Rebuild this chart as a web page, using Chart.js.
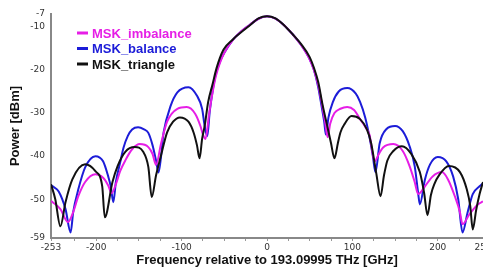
<!DOCTYPE html>
<html>
<head>
<meta charset="utf-8">
<script src="https://cdn.jsdelivr.net/npm/chart.js@4/dist/chart.umd.min.js"></script>
<style>
  html, body { margin: 0; padding: 0; background: #fff; overflow: hidden; }
  #wrap { position: relative; width: 483px; height: 272px; }
</style>
</head>
<body>
<div id="wrap"><canvas id="spectrum"></canvas></div>
<script>
// Frequency offsets [GHz] and power [dBm]
const imbalanceFreq = [-253, -251, -242, -233, -227, -221, -213, -201, -192, -186, -182, -177, -172, -166, -158, -149, -139, -134, -130, -124, -117, -105, -94, -84, -78, -75, -72, -68, -64, -60, -55, -50, -40, -30, -20, -10, 0, 10, 20, 30, 40, 50, 55, 60, 64, 68, 71, 74, 79, 86, 94, 102, 109, 116, 120, 126, 131, 136, 148, 159, 167, 173, 177, 185, 194, 205, 212, 220, 226, 229, 237, 247, 253];
const imbalancePower = [-50.4, -50.7, -52.3, -55.3, -53, -49.3, -46, -44.2, -45, -46.8, -48.6, -46.5, -43.5, -41, -38.4, -37.2, -37.9, -39.5, -42, -37, -32, -29, -28.6, -30.2, -33, -35, -36, -30.5, -25.5, -21.5, -18.3, -16, -13, -11, -9.5, -8.1, -7.5, -8.1, -9.6, -11.7, -14.2, -17.5, -20, -23.5, -27.5, -32, -35.6, -32.5, -30, -29, -28.6, -29.3, -31.4, -33.5, -35, -41.2, -39.5, -38, -37.2, -38.8, -42.3, -46, -48.8, -47, -44.7, -43.7, -45.4, -49.3, -53, -55.8, -53.5, -51.2, -50.5];

const balanceFreq = [-253, -251, -244, -236, -230, -227, -221, -213, -201, -192, -186, -183, -180, -177, -172, -168, -163, -158, -151, -144, -139, -134, -130, -127, -121, -113, -105, -92, -82, -76, -73, -70, -67, -63, -60, -55, -50, -40, -30, -20, -10, 0, 10, 20, 30, 40, 50, 55, 60, 64, 67, 69, 72, 77, 84, 94, 104, 109, 115, 120, 124, 127, 132, 140, 150, 159, 167, 173, 177, 179, 185, 191, 200, 210, 218, 224, 229, 235, 241, 249, 253];
const balancePower = [-46.7, -47, -48.2, -52.3, -57.7, -53, -47.7, -42.6, -40, -41.2, -44.7, -47, -50.7, -46, -41.5, -38, -35.3, -33.8, -33.3, -33.8, -34.6, -37.5, -41, -43.8, -34.4, -28.4, -25.2, -24, -26, -29, -33, -35.4, -29.5, -24, -21, -18, -16, -13, -11, -9.5, -8.1, -7.5, -8.1, -9.6, -11.7, -14.2, -17.5, -20, -24, -28.5, -32, -35, -31, -27.5, -25, -24.2, -25.5, -27.4, -31, -35.5, -40, -43.7, -37, -33.7, -33, -34.2, -37.7, -42.3, -48.5, -51.2, -45.4, -41.9, -40.2, -41.2, -44.7, -50, -57.7, -53, -48.8, -47, -46.3];

const triangleFreq = [-253, -248, -242, -236, -228, -213, -201, -193, -190, -181, -175, -166, -155, -145, -139, -135, -130, -125, -117, -110, -102, -92, -86, -82, -79, -76, -73, -69, -64, -59, -51, -40, -30, -20, -10, 0, 10, 20, 30, 40, 50, 55, 60, 65, 70, 75, 79, 83, 86, 91, 99, 109, 117, 122, 128, 133, 137, 141, 148, 158, 169, 179, 184, 188, 192, 196, 202, 213, 226, 234, 238, 241, 245, 249, 253];
const trianglePower = [-46.5, -50, -56.3, -50.7, -45.4, -41.9, -43.5, -47, -54.2, -46, -42.3, -39, -37.9, -39, -42.5, -49.5, -44.5, -40.5, -34.5, -32, -31, -32, -34.5, -37.5, -40.5, -36, -33, -27.5, -23.5, -19.5, -15.3, -12.9, -11.2, -9.6, -8, -7.5, -8, -9.6, -11.7, -14, -17, -19.5, -22.8, -28, -32.5, -37, -40.5, -37, -34.5, -32.5, -30.7, -31.4, -33.8, -37, -44, -49.3, -44.5, -41, -38.8, -37.7, -39.5, -43.7, -48.5, -53.7, -49, -46.5, -44.3, -42.3, -43.7, -47.7, -51.5, -57, -52.5, -48.8, -46];

const xTickValues = [-253, -225, -200, -175, -150, -125, -100, -75, -50, -25, 0, 25, 50, 75, 100, 125, 150, 175, 200, 225, 253];
const xLabelValues = [-253, -200, -100, 0, 100, 200, 253];
const yTickValues = [-59, -50, -40, -30, -20, -10, -7];

const toPoints = (xs, ys) => xs.map((x, i) => ({ x: x, y: ys[i] }));

const tickFont = { family: '"DejaVu Sans", sans-serif', size: 9 };
const titleFont = { family: '"Liberation Sans", Arial, sans-serif', size: 13, weight: 'bold' };

// legend drawn inside the plot, top-left, like the original figure
const insideLegend = {
    id: 'insideLegend',
    afterDraw(chart) {
        const ctx = chart.ctx;
        const left = chart.chartArea.left + 26;
        const top = chart.chartArea.top + 19;
        ctx.save();
        ctx.font = 'bold 13px "Liberation Sans", Arial, sans-serif';
        ctx.textBaseline = 'middle';
        chart.data.datasets.forEach((ds, i) => {
            const y = top + i * 15.5;
            ctx.strokeStyle = ds.borderColor;
            ctx.lineWidth = 3;
            ctx.beginPath();
            ctx.moveTo(left, y);
            ctx.lineTo(left + 11, y);
            ctx.stroke();
            ctx.fillStyle = ds.borderColor;
            ctx.fillText(ds.label, left + 15, y + 1);
        });
        ctx.restore();
    }
};

new Chart(document.getElementById('spectrum'), {
    type: 'scatter',
    data: {
        datasets: [
            { label: 'MSK_imbalance', data: toPoints(imbalanceFreq, imbalancePower), borderColor: '#e61ee6', order: 1 },
            { label: 'MSK_balance', data: toPoints(balanceFreq, balancePower), borderColor: '#1c1cd8', order: 2 },
            { label: 'MSK_triangle', data: toPoints(triangleFreq, trianglePower), borderColor: '#111111', order: 0 }
        ].map(ds => Object.assign(ds, {
            showLine: true,
            borderWidth: 2,
            pointRadius: 0,
            cubicInterpolationMode: 'monotone'
        }))
    },
    options: {
        responsive: true,
        maintainAspectRatio: false,
        animation: false,
        devicePixelRatio: 1,
        layout: { padding: { top: 14, left: 0, right: 0, bottom: 0 } },
        plugins: {
            legend: { display: false },
            tooltip: { enabled: false }
        },
        scales: {
            x: {
                type: 'linear',
                min: -253,
                max: 253,
                afterBuildTicks: axis => { axis.ticks = xTickValues.map(v => ({ value: v })); },
                afterFit: scale => {
                    scale.height = 34;
                    scale.paddingLeft = 0;
                    scale.paddingRight = 0;
                },
                ticks: {
                    autoSkip: false,
                    maxRotation: 0,
                    padding: 1,
                    color: '#333',
                    font: tickFont,
                    callback: v => xLabelValues.includes(v) ? String(v) : ''
                },
                grid: { drawOnChartArea: false, drawTicks: true, tickLength: 3, color: '#999' },
                border: { color: '#888', width: 2 },
                title: {
                    display: true,
                    text: 'Frequency relative to 193.09995 THz [GHz]',
                    color: '#111',
                    font: titleFont,
                    padding: { top: 0, bottom: 4 }
                }
            },
            y: {
                min: -59,
                max: -7,
                afterBuildTicks: axis => { axis.ticks = yTickValues.map(v => ({ value: v })); },
                afterFit: scale => { scale.width = 51; },
                ticks: { padding: 6, color: '#333', font: tickFont },
                grid: { drawOnChartArea: false, drawTicks: false },
                border: { color: '#888', width: 2 },
                title: {
                    display: true,
                    text: 'Power [dBm]',
                    color: '#111',
                    font: titleFont,
                    padding: { top: 8, bottom: 0 }
                }
            }
        }
    },
    plugins: [insideLegend]
});
</script>
</body>
</html>
